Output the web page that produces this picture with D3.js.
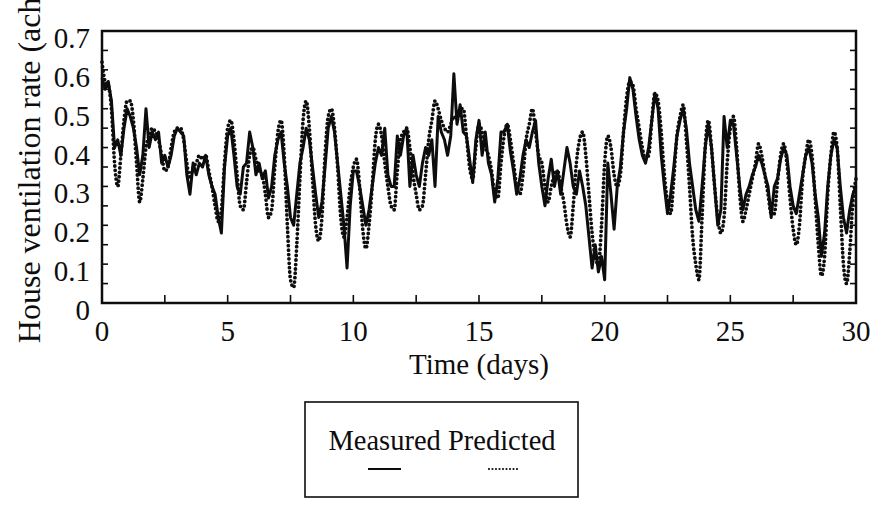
<!DOCTYPE html>
<html>
<head>
<meta charset="utf-8">
<script src="https://cdn.jsdelivr.net/npm/d3@7"></script>
<style>
  body { margin: 0; background: #fff; }
  svg { display: block; font-family: "Liberation Serif", "Times New Roman", serif; }
</style>
</head>
<body>
<svg id="chart" width="892" height="505"></svg>
<script>
// samples every 1/8 day, from day 0 to day 30
var step = 0.125;

var measured = [
  0.58, 0.55, 0.57, 0.52, 0.40, 0.42, 0.38, 0.45,
  0.50, 0.48, 0.45, 0.40, 0.33, 0.38, 0.50, 0.40,
  0.44, 0.42, 0.44, 0.36, 0.38, 0.35, 0.38, 0.43,
  0.45, 0.44, 0.43, 0.33, 0.28, 0.36, 0.33, 0.36,
  0.35, 0.38, 0.33, 0.30, 0.28, 0.22, 0.18, 0.35,
  0.43, 0.45, 0.38, 0.30, 0.28, 0.35, 0.36, 0.44,
  0.40, 0.33, 0.36, 0.32, 0.34, 0.27, 0.30, 0.38,
  0.42, 0.44, 0.36, 0.30, 0.22, 0.20, 0.28, 0.36,
  0.40, 0.45, 0.42, 0.35, 0.28, 0.22, 0.26, 0.35,
  0.45, 0.48, 0.44, 0.36, 0.28, 0.20, 0.09, 0.25,
  0.34, 0.34, 0.30, 0.25, 0.20, 0.24, 0.30, 0.36,
  0.40, 0.38, 0.45, 0.33, 0.30, 0.30, 0.43, 0.38,
  0.43, 0.45, 0.30, 0.38, 0.33, 0.30, 0.36, 0.40,
  0.38, 0.42, 0.30, 0.48, 0.44, 0.42, 0.38, 0.43,
  0.59, 0.46, 0.51, 0.44, 0.43, 0.37, 0.31, 0.42,
  0.47, 0.38, 0.44, 0.36, 0.33, 0.26, 0.32, 0.44,
  0.44, 0.46, 0.39, 0.34, 0.28, 0.32, 0.38, 0.42,
  0.40, 0.44, 0.47, 0.36, 0.30, 0.25, 0.32, 0.37,
  0.30, 0.34, 0.28, 0.34, 0.40, 0.36, 0.30, 0.28,
  0.34, 0.30, 0.25, 0.17, 0.09, 0.15, 0.08, 0.12,
  0.06, 0.36, 0.28, 0.19, 0.30, 0.35, 0.44, 0.50,
  0.58, 0.55, 0.48, 0.42, 0.38, 0.36, 0.40, 0.47,
  0.54, 0.50, 0.38, 0.30, 0.23, 0.28, 0.35, 0.43,
  0.47, 0.50, 0.45, 0.36, 0.30, 0.24, 0.21, 0.30,
  0.40, 0.46, 0.40, 0.30, 0.20, 0.24, 0.48, 0.40,
  0.47, 0.46, 0.38, 0.30, 0.24, 0.28, 0.30, 0.33,
  0.35, 0.38, 0.36, 0.33, 0.30, 0.22, 0.30, 0.32,
  0.37, 0.40, 0.38, 0.30, 0.25, 0.23, 0.28, 0.33,
  0.38, 0.40, 0.36, 0.28, 0.22, 0.12, 0.18, 0.30,
  0.38, 0.42, 0.40, 0.30, 0.22, 0.18, 0.24, 0.28,
  0.30
];

var predicted = [
  0.62, 0.57, 0.56, 0.50, 0.36, 0.30, 0.38, 0.47,
  0.52, 0.52, 0.47, 0.36, 0.26, 0.32, 0.40, 0.43,
  0.45, 0.44, 0.42, 0.38, 0.34, 0.35, 0.40, 0.44,
  0.45, 0.45, 0.42, 0.36, 0.32, 0.35, 0.36, 0.38,
  0.37, 0.38, 0.34, 0.30, 0.25, 0.21, 0.24, 0.36,
  0.45, 0.47, 0.42, 0.33, 0.25, 0.24, 0.31, 0.38,
  0.40, 0.37, 0.34, 0.33, 0.28, 0.22, 0.24, 0.35,
  0.44, 0.47, 0.38, 0.20, 0.06, 0.04, 0.15, 0.32,
  0.47, 0.52, 0.45, 0.32, 0.20, 0.16, 0.22, 0.38,
  0.48, 0.50, 0.45, 0.35, 0.22, 0.17, 0.22, 0.30,
  0.35, 0.37, 0.30, 0.19, 0.14, 0.20, 0.30, 0.42,
  0.46, 0.43, 0.36, 0.30, 0.25, 0.24, 0.34, 0.42,
  0.44, 0.45, 0.40, 0.33, 0.28, 0.24, 0.25, 0.33,
  0.42, 0.47, 0.52, 0.50, 0.47, 0.45, 0.44, 0.46,
  0.48, 0.47, 0.50, 0.50, 0.43, 0.35, 0.32, 0.40,
  0.46, 0.44, 0.40, 0.38, 0.34, 0.28, 0.27, 0.36,
  0.43, 0.46, 0.42, 0.36, 0.30, 0.28, 0.33, 0.42,
  0.46, 0.50, 0.44, 0.38, 0.36, 0.30, 0.26, 0.30,
  0.33, 0.34, 0.30, 0.26, 0.20, 0.17, 0.25, 0.36,
  0.42, 0.44, 0.38, 0.28, 0.18, 0.12, 0.10, 0.20,
  0.36, 0.43, 0.40, 0.33, 0.30, 0.33, 0.44, 0.53,
  0.57, 0.56, 0.50, 0.45, 0.40, 0.37, 0.38, 0.47,
  0.54, 0.52, 0.44, 0.33, 0.26, 0.23, 0.32, 0.43,
  0.48, 0.51, 0.42, 0.30, 0.17, 0.10, 0.06, 0.22,
  0.40, 0.47, 0.40, 0.30, 0.22, 0.18, 0.22, 0.36,
  0.45, 0.48, 0.40, 0.28, 0.21, 0.24, 0.28, 0.32,
  0.36, 0.41, 0.38, 0.33, 0.28, 0.23, 0.23, 0.31,
  0.38, 0.41, 0.36, 0.27, 0.19, 0.15, 0.20, 0.32,
  0.38, 0.42, 0.38, 0.27, 0.15, 0.07, 0.12, 0.28,
  0.38, 0.44, 0.40, 0.25, 0.10, 0.05, 0.13, 0.26,
  0.32
];

var xTicks = [0, 2.5, 5, 7.5, 10, 12.5, 15, 17.5, 20, 22.5, 25, 27.5, 30];
var xTickLabels = [0, 5, 10, 15, 20, 25, 30];
var yTicks = [0, 0.05, 0.1, 0.15, 0.2, 0.25, 0.3, 0.35, 0.4, 0.45, 0.5, 0.55, 0.6, 0.65, 0.7];
var yTickLabels = [0, 0.1, 0.2, 0.3, 0.4, 0.5, 0.6, 0.7];
var seriesNames = ["Measured", "Predicted"];

var svg = d3.select("#chart");
// plot box edges (note: "top" is taken by window.top, so prefix them)
var pLeft = 102, pRight = 856, pTop = 31, pBottom = 303;

var x = d3.scaleLinear().domain([0, 30]).range([pLeft, pRight]);
var y = d3.scaleLinear().domain([0, 0.7]).range([pBottom, pTop]);

var ink = "#0d0d0d";

// data lines
var line = d3.line()
  .x(function(d, i) { return x(i * step); })
  .y(function(d) { return y(d); });

svg.append("path")
  .datum(measured)
  .attr("d", line)
  .attr("fill", "none")
  .attr("stroke", ink)
  .attr("stroke-width", 3)
  .attr("stroke-linejoin", "round");

// predicted drawn as a chain of big round dots
svg.append("path")
  .datum(predicted)
  .attr("d", line.curve(d3.curveMonotoneX))
  .attr("fill", "none")
  .attr("stroke", ink)
  .attr("stroke-width", 3.8)
  .attr("stroke-linecap", "round")
  .attr("stroke-dasharray", "0,4.4");

// frame
svg.append("rect")
  .attr("x", pLeft).attr("y", pTop)
  .attr("width", pRight - pLeft).attr("height", pBottom - pTop)
  .attr("fill", "none")
  .attr("stroke", ink)
  .attr("stroke-width", 2.5);

// inward ticks
var g = svg.append("g").attr("stroke", ink).attr("stroke-width", 1.6);
g.selectAll(".xt").data(xTicks).enter().append("line")
  .attr("x1", function(d) { return x(d); }).attr("x2", function(d) { return x(d); })
  .attr("y1", pBottom).attr("y2", pBottom - 8);
g.selectAll(".yl").data(yTicks).enter().append("line")
  .attr("x1", pLeft).attr("x2", pLeft + 6)
  .attr("y1", function(d) { return y(d); }).attr("y2", function(d) { return y(d); });
g.selectAll(".yr").data(yTicks).enter().append("line")
  .attr("x1", pRight).attr("x2", pRight - 6)
  .attr("y1", function(d) { return y(d); }).attr("y2", function(d) { return y(d); });

// tick labels
svg.selectAll(".xlab").data(xTickLabels).enter().append("text")
  .attr("x", function(d) { return x(d); })
  .attr("y", 341)
  .attr("text-anchor", "middle")
  .attr("font-size", 29)
  .attr("fill", ink)
  .text(function(d) { return d; });

svg.selectAll(".ylab").data(yTickLabels).enter().append("text")
  .attr("x", 90)
  .attr("y", function(d) { return y(d) + 17; })
  .attr("text-anchor", "end")
  .attr("font-size", 29)
  .attr("fill", ink)
  .text(function(d) { return d === 0 ? "0" : d.toFixed(1); });

// axis titles
svg.append("text")
  .attr("x", 479).attr("y", 374)
  .attr("text-anchor", "middle")
  .attr("font-size", 29)
  .attr("fill", ink)
  .text("Time (days)");

svg.append("text")
  .attr("transform", "translate(40,165) rotate(-90)")
  .attr("text-anchor", "middle")
  .attr("font-size", 32)
  .attr("fill", ink)
  .text("House ventilation rate (ach)");

// legend
var lg = svg.append("g");
lg.append("rect")
  .attr("x", 305).attr("y", 402)
  .attr("width", 273).attr("height", 95)
  .attr("fill", "none")
  .attr("stroke", ink)
  .attr("stroke-width", 1.6);
lg.append("text")
  .attr("x", 442).attr("y", 450)
  .attr("text-anchor", "middle")
  .attr("font-size", 28.5)
  .attr("fill", ink)
  .text(seriesNames.join(" "));
lg.append("line")
  .attr("x1", 368).attr("x2", 401).attr("y1", 469).attr("y2", 469)
  .attr("stroke", ink).attr("stroke-width", 2.2);
lg.append("line")
  .attr("x1", 489).attr("x2", 519).attr("y1", 469).attr("y2", 469)
  .attr("stroke", ink).attr("stroke-width", 2.2)
  .attr("stroke-linecap", "round")
  .attr("stroke-dasharray", "0,3.5");
</script>
</body>
</html>
